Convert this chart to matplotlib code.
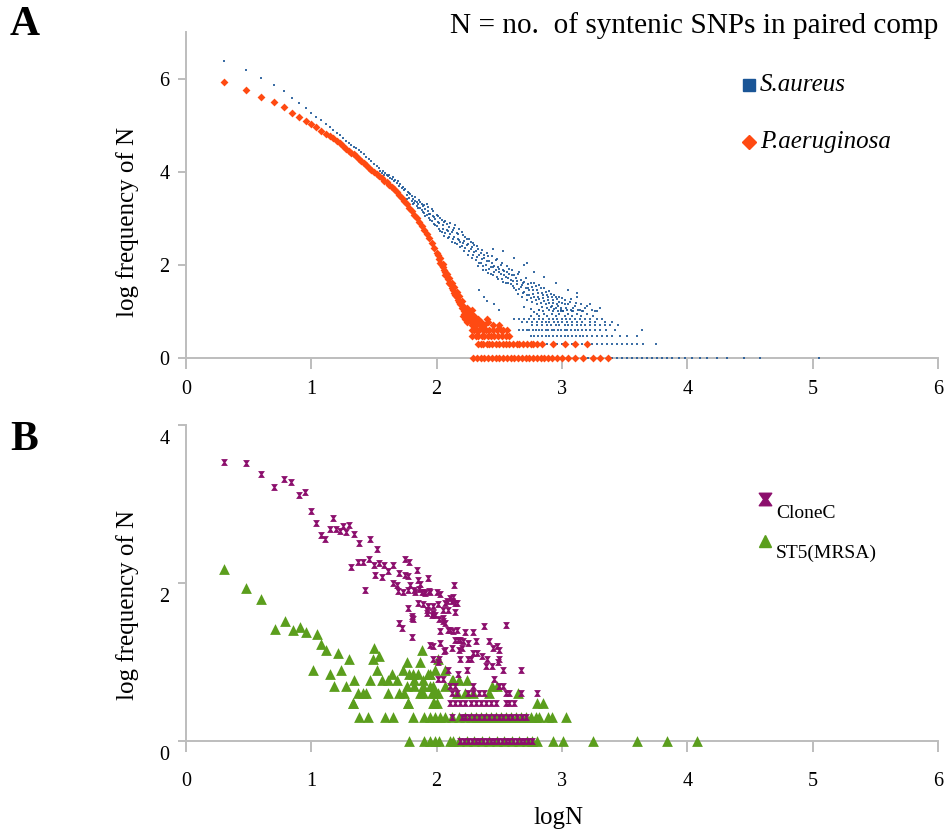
import matplotlib
matplotlib.use("Agg")
import matplotlib.pyplot as plt
import matplotlib.transforms as mtransforms
from matplotlib.lines import Line2D
from matplotlib.path import Path

plt.rcParams['font.family'] = ['Liberation Serif', 'DejaVu Serif']

# ---------------- panel A : S.aureus ----------------
sa_curve_x = [0.301, 0.477, 0.602, 0.699, 0.778, 0.845, 0.903, 0.954, 1.000, 1.041,
              1.079, 1.114, 1.146, 1.176, 1.204, 1.230, 1.255, 1.279, 1.301, 1.32,
              1.34, 1.36, 1.38, 1.40, 1.42, 1.44, 1.46, 1.48, 1.50, 1.52, 1.54]
sa_curve_y = [6.38, 6.18, 6.01, 5.86, 5.73, 5.58, 5.47, 5.37, 5.27, 5.18,
              5.10, 5.03, 4.96, 4.90, 4.84, 4.78, 4.72, 4.67, 4.62, 4.58,
              4.54, 4.50, 4.46, 4.42, 4.37, 4.32, 4.27, 4.22, 4.17, 4.13, 4.08]
sa_cloud = [
    (1.55, 4.02), (1.56, 3.98), (1.57, 4.01), (1.58, 3.94), (1.59, 3.97), (1.60, 3.92),
    (1.61, 3.90), (1.62, 3.93), (1.63, 3.86), (1.64, 3.85), (1.65, 3.89), (1.66, 3.80),
    (1.67, 3.82), (1.68, 3.76), (1.69, 3.79), (1.70, 3.70), (1.71, 3.73), (1.72, 3.65),
    (1.73, 3.68), (1.74, 3.60), (1.75, 3.62), (1.76, 3.50), (1.77, 3.56), (1.78, 3.44),
    (1.79, 3.52), (1.80, 3.38), (1.80, 3.47), (1.81, 3.42), (1.82, 3.33), (1.83, 3.45),
    (1.84, 3.36), (1.84, 3.26), (1.85, 3.30), (1.86, 3.40), (1.87, 3.22), (1.88, 3.31),
    (1.88, 3.18), (1.89, 3.26), (1.90, 3.12), (1.91, 3.21), (1.92, 3.30), (1.92, 3.06),
    (1.93, 3.15), (1.94, 3.00), (1.95, 3.10), (1.96, 3.20), (1.96, 2.94), (1.97, 3.04),
    (1.98, 2.88), (1.99, 2.98), (2.00, 3.08), (2.00, 2.84), (2.01, 2.92), (2.02, 2.78),
    (2.03, 3.00), (2.04, 2.70), (2.05, 2.86), (2.06, 2.62), (2.07, 2.95), (2.08, 2.74),
    (2.09, 2.58), (2.10, 2.82), (2.11, 2.66), (2.12, 2.50), (2.13, 2.75), (2.14, 2.60),
    (2.15, 2.85), (2.16, 2.44), (2.17, 2.66), (2.18, 2.53), (2.19, 2.38), (2.20, 2.70),
    (2.21, 2.48), (2.22, 2.30), (2.23, 2.60), (2.24, 2.42), (2.25, 2.22), (2.26, 2.55),
    (2.27, 2.35), (2.28, 2.15), (2.29, 2.46), (2.30, 2.28), (2.31, 2.10), (2.32, 2.40),
    (2.33, 1.98), (2.34, 2.22), (2.35, 2.05), (2.36, 2.32), (2.37, 1.90), (2.38, 2.15),
    (2.39, 2.00), (2.40, 2.26), (2.41, 1.82), (2.42, 2.08), (2.43, 1.95), (2.44, 2.20),
    (2.45, 1.78), (2.46, 1.98), (2.47, 1.88), (2.48, 2.12), (2.49, 1.70), (2.50, 1.92),
    (2.51, 1.80), (2.52, 2.05), (2.53, 1.64), (2.54, 1.86), (2.55, 1.74), (2.56, 1.98),
    (2.57, 1.60), (2.58, 1.80), (2.59, 1.68), (2.60, 1.90), (2.34, 1.45), (2.38, 1.30),
    (2.40, 1.23), (2.46, 1.15), (2.50, 1.04), (2.61, 1.55), (2.62, 1.78), (2.63, 1.45),
    (2.64, 1.66), (2.65, 1.38), (2.66, 1.85), (2.67, 1.52), (2.68, 1.30), (2.69, 1.62),
    (2.70, 1.42), (2.71, 1.72), (2.72, 1.25), (2.72, 2.05), (2.73, 1.50), (2.74, 1.35),
    (2.75, 1.60), (2.76, 1.20), (2.77, 1.45), (2.78, 1.30), (2.79, 1.55), (2.80, 1.15),
    (2.81, 1.40), (2.82, 1.26), (2.83, 1.50), (2.84, 1.10), (2.85, 1.35), (2.86, 1.22),
    (2.87, 1.42), (2.88, 1.08), (2.89, 1.30), (2.90, 1.18), (2.70, 1.10), (2.75, 1.05),
    (2.78, 0.98), (2.82, 1.02), (2.91, 1.38), (2.92, 1.12), (2.93, 1.25), (2.94, 1.05),
    (2.95, 1.32), (2.96, 1.15), (2.97, 1.00), (2.98, 1.20), (2.99, 1.08), (3.00, 1.28),
    (3.01, 1.00), (3.02, 1.15), (3.04, 1.04), (3.06, 1.20), (3.08, 1.00), (3.10, 1.11),
    (3.12, 1.30), (3.14, 1.04), (3.17, 1.00), (3.20, 1.11), (3.24, 1.04), (3.28, 1.00),
    (1.76, 3.42), (1.78, 3.55), (1.81, 3.30), (1.83, 3.38), (1.85, 3.22), (1.87, 3.35),
    (1.89, 3.14), (1.90, 3.28), (1.91, 3.05), (1.93, 3.24), (1.94, 3.10), (1.95, 2.96),
    (1.97, 3.16), (1.98, 3.02), (1.99, 2.86), (2.01, 3.05), (2.02, 2.90), (2.03, 2.72),
    (2.04, 2.96), (2.05, 2.78), (2.06, 2.92), (2.07, 2.68), (2.08, 2.88), (2.09, 2.72),
    (2.10, 2.60), (2.11, 2.90), (2.12, 2.70), (2.13, 2.55), (2.14, 2.80), (2.15, 2.48),
    (2.16, 2.68), (2.17, 2.56), (2.18, 2.76), (2.19, 2.50), (2.20, 2.40), (2.21, 2.64),
    (2.22, 2.52), (2.23, 2.36), (2.24, 2.56), (2.25, 2.44), (2.26, 2.30), (2.27, 2.50),
    (2.28, 2.38), (2.29, 2.22), (2.30, 2.42), (2.31, 2.30), (2.32, 2.16), (2.33, 2.35),
    (2.34, 2.05), (2.35, 2.26), (2.36, 2.12), (2.37, 1.98), (2.38, 2.22), (2.39, 1.88),
    (2.40, 2.08), (2.41, 2.18), (2.42, 1.92), (2.43, 1.80), (2.44, 2.05), (2.45, 1.95),
    (2.46, 1.85), (2.47, 2.10), (2.48, 1.75), (2.49, 1.96), (2.50, 1.84), (2.51, 2.00),
    (2.52, 1.70), (2.53, 1.90), (2.54, 1.78), (2.55, 1.62), (2.56, 1.84), (2.57, 1.72),
    (2.58, 1.92), (2.59, 1.58), (2.60, 1.78), (2.61, 1.66), (2.62, 1.50), (2.63, 1.72),
    (2.64, 1.58), (2.65, 1.80), (2.66, 1.48), (2.67, 1.68), (2.68, 1.56), (2.69, 1.40),
    (2.70, 1.64), (2.71, 1.50), (2.72, 1.36), (2.73, 1.58), (2.74, 1.46), (2.75, 1.28),
    (2.76, 1.52), (2.77, 1.38), (2.78, 1.62), (2.79, 1.24), (2.80, 1.45), (2.81, 1.32),
    (2.82, 1.56), (2.83, 1.18), (2.84, 1.40), (2.85, 1.28), (2.86, 1.50), (2.87, 1.15),
    (2.88, 1.36), (2.89, 1.24), (2.90, 1.44), (2.91, 1.10), (2.92, 1.30), (2.93, 1.18),
    (2.94, 1.36), (2.95, 1.08), (2.96, 1.26), (2.97, 1.12), (2.98, 1.32), (2.99, 1.00),
    (3.00, 1.18), (3.02, 1.25), (3.03, 1.08), (3.05, 1.15), (3.07, 1.26), (3.09, 1.08),
    (3.11, 1.18), (3.13, 1.04), (3.15, 1.15), (3.18, 1.08), (3.22, 1.15), (3.26, 1.00),
    (3.30, 1.08), (2.45, 2.35), (2.53, 2.30), (2.62, 2.15), (2.70, 2.00), (2.78, 1.85),
    (2.86, 1.75), (2.95, 1.62), (3.05, 1.45), (3.12, 1.40),
]
sa_row_levels = [1.041, 1.000, 0.954, 0.903, 0.845, 0.778, 0.699, 0.602, 0.477, 0.301, 0.0]
sa_row_x = [
    [2.82, 2.90, 2.99, 3.07],
    [2.85, 2.93, 3.01, 3.09, 3.16],
    [2.80, 2.86, 2.92, 2.98, 3.05, 3.12, 3.20],
    [2.75, 2.82, 2.88, 2.95, 3.02, 3.08, 3.15, 3.25],
    [2.62, 2.66, 2.70, 2.74, 2.78, 2.82, 2.85, 2.90, 2.93, 2.96, 3.00, 3.03, 3.06,
     3.10, 3.14, 3.18, 3.22, 3.28, 3.32],
    [2.68, 2.72, 2.76, 2.80, 2.84, 2.87, 2.90, 2.94, 2.97, 3.00, 3.04, 3.08, 3.12,
     3.16, 3.22, 3.26, 3.34, 3.40],
    [2.76, 2.80, 2.84, 2.88, 2.91, 2.95, 2.98, 3.02, 3.05, 3.08, 3.12, 3.15, 3.18,
     3.22, 3.26, 3.30, 3.34, 3.38, 3.45],
    [2.66, 2.69, 2.72, 2.74, 2.77, 2.79, 2.82, 2.84, 2.87, 2.89, 2.92, 2.94, 2.97,
     2.99, 3.02, 3.04, 3.07, 3.10, 3.13, 3.16, 3.19, 3.22, 3.26, 3.30, 3.35, 3.42, 3.64],
    [2.75, 2.78, 2.81, 2.84, 2.87, 2.90, 2.93, 2.96, 2.99, 3.02, 3.05, 3.08, 3.11,
     3.14, 3.17, 3.20, 3.24, 3.28, 3.32, 3.36, 3.40, 3.46, 3.52, 3.60],
    [2.88, 2.92, 2.96, 3.00, 3.04, 3.08, 3.12, 3.16, 3.20, 3.24, 3.28, 3.32, 3.36,
     3.40, 3.44, 3.48, 3.52, 3.56, 3.60, 3.65, 3.75],
    [2.86, 2.91, 2.96, 3.01, 3.06, 3.11, 3.16, 3.21, 3.26, 3.31, 3.36, 3.40, 3.44,
     3.48, 3.52, 3.56, 3.60, 3.64, 3.68, 3.72, 3.76, 3.80, 3.84, 3.88, 3.93, 3.98,
     4.04, 4.10, 4.16, 4.24, 4.32, 4.45, 4.58, 5.05],
]

# ---------------- panel A : P.aeruginosa ----------------
pa_curve_x = [0.301, 0.477, 0.602, 0.699, 0.778, 0.845, 0.903, 0.954, 1.000, 1.041,
              1.079, 1.114, 1.146, 1.176, 1.204, 1.230, 1.255, 1.28, 1.30, 1.32,
              1.34, 1.36, 1.38, 1.40, 1.42, 1.44, 1.46, 1.48, 1.50, 1.52, 1.54,
              1.56, 1.58, 1.60, 1.62, 1.64, 1.66, 1.68, 1.70, 1.72, 1.74, 1.76,
              1.78, 1.80, 1.82, 1.84, 1.86, 1.88, 1.90, 1.92, 1.94, 1.96, 1.98, 2.00]
pa_curve_y = [5.92, 5.76, 5.61, 5.49, 5.39, 5.26, 5.17, 5.09, 5.02, 4.95,
              4.88, 4.82, 4.77, 4.72, 4.67, 4.61, 4.56, 4.49, 4.45, 4.41,
              4.37, 4.33, 4.28, 4.24, 4.19, 4.14, 4.09, 4.04, 3.99, 3.95, 3.90,
              3.86, 3.81, 3.77, 3.72, 3.67, 3.62, 3.56, 3.50, 3.43, 3.37, 3.30,
              3.22, 3.15, 3.07, 3.00, 2.92, 2.84, 2.75, 2.66, 2.57, 2.47, 2.37, 2.26]
pa_cloud = [
    (2.01, 2.22), (2.02, 2.12), (2.03, 2.15), (2.03, 2.05), (2.04, 2.00), (2.05, 1.95),
    (2.05, 2.02), (2.06, 1.88), (2.07, 1.85), (2.07, 1.78), (2.08, 1.80), (2.09, 1.70),
    (2.10, 1.72), (2.10, 1.62), (2.11, 1.58), (2.12, 1.50), (2.12, 1.62), (2.13, 1.45),
    (2.14, 1.40), (2.14, 1.52), (2.15, 1.35), (2.16, 1.30), (2.16, 1.42), (2.17, 1.25),
    (2.18, 1.20), (2.18, 1.33), (2.19, 1.15), (2.20, 1.08), (2.20, 1.22), (2.21, 1.12),
    (2.22, 1.00), (2.23, 1.05), (2.24, 1.08), (2.26, 1.00), (2.28, 1.04),
]
pa_row_levels = [0.954, 0.903, 0.845, 0.778, 0.699, 0.602, 0.477, 0.301, 0.0]
pa_row_x = [
    [2.22, 2.25, 2.27],
    [2.21, 2.24, 2.28, 2.30],
    [2.23, 2.26, 2.29, 2.33, 2.40],
    [2.24, 2.27, 2.31, 2.35, 2.41],
    [2.28, 2.31, 2.35, 2.38, 2.45, 2.50],
    [2.28, 2.30, 2.32, 2.34, 2.37, 2.39, 2.42, 2.45, 2.48, 2.51, 2.53, 2.56],
    [2.28, 2.31, 2.33, 2.36, 2.38, 2.41, 2.43, 2.46, 2.49, 2.52, 2.55, 2.58],
    [2.33, 2.35, 2.37, 2.40, 2.42, 2.44, 2.47, 2.50, 2.53, 2.55, 2.58, 2.61, 2.64,
     2.66, 2.69, 2.72, 2.75, 2.77, 2.80, 2.84, 2.93, 3.02, 3.10, 3.20],
    [2.29, 2.32, 2.35, 2.38, 2.41, 2.44, 2.47, 2.50, 2.53, 2.56, 2.59, 2.62, 2.65,
     2.68, 2.71, 2.74, 2.77, 2.80, 2.83, 2.86, 2.89, 2.92, 2.96, 3.00, 3.05, 3.10,
     3.17, 3.25, 3.30, 3.37],
]

# ---------------- panel B : CloneC ----------------
cc_pts = [
    (0.30, 3.53), (0.48, 3.52), (0.60, 3.38), (0.70, 3.21), (0.78, 3.32), (0.84, 3.28),
    (0.90, 3.12), (0.95, 3.15), (1.00, 2.91), (1.04, 2.76), (1.08, 2.61), (1.11, 2.56),
    (1.15, 2.68), (1.17, 2.82), (1.20, 2.68), (1.23, 2.66), (1.25, 2.72), (1.28, 2.64),
    (1.30, 2.74), (1.34, 2.62), (1.38, 2.51), (1.47, 2.56), (1.52, 2.43), (1.32, 2.20),
    (1.43, 1.91), (1.37, 2.27), (1.41, 2.27), (1.46, 2.30), (1.50, 2.23), (1.54, 2.25),
    (1.58, 2.23), (1.65, 2.23), (1.51, 2.10), (1.56, 2.08), (1.61, 2.15), (1.65, 2.00),
    (1.68, 1.98), (1.70, 2.13), (1.75, 2.10), (1.75, 2.30), (1.78, 2.27), (1.84, 2.16),
    (1.69, 1.90), (1.73, 1.88), (1.77, 1.91), (1.82, 1.91), (1.86, 1.92), (1.90, 1.88),
    (1.94, 1.90), (2.00, 1.88), (2.03, 1.86), (1.85, 1.75), (1.89, 1.73), (1.92, 1.66),
    (1.97, 1.62), (1.99, 1.60), (2.02, 1.54), (1.70, 1.49), (1.72, 1.43), (1.80, 1.58),
    (1.81, 1.54), (2.14, 1.97), (2.07, 1.75), (2.11, 1.81), (2.15, 1.75), (1.80, 1.32),
    (2.05, 1.52), (2.09, 1.41), (2.13, 1.39), (2.17, 1.28), (2.21, 1.26), (2.25, 1.24),
    (1.95, 1.22), (2.03, 1.24), (2.06, 1.14), (2.09, 0.90), (2.18, 1.15), (2.25, 1.04),
    (1.77, 2.09), (1.85, 2.04), (1.87, 1.99), (1.93, 2.06), (1.79, 1.98), (1.83, 1.89),
    (1.88, 1.89), (1.91, 1.87), (1.95, 1.89), (2.13, 1.82), (2.08, 1.77), (2.12, 1.77),
    (2.16, 1.75), (2.15, 1.63), (1.93, 1.71), (1.97, 1.71), (2.01, 1.73), (2.05, 1.66),
    (2.09, 1.66), (1.77, 1.68), (1.80, 1.56), (1.92, 1.62), (1.96, 1.60), (2.05, 1.56),
    (2.07, 1.49), (2.38, 1.46), (2.55, 1.47), (2.03, 1.39), (2.11, 1.40), (2.16, 1.40),
    (2.23, 1.38), (2.29, 1.38), (2.15, 1.28), (2.19, 1.28), (2.31, 1.26), (2.42, 1.26),
    (2.48, 1.20), (2.45, 1.18), (2.50, 1.15), (1.97, 1.20), (2.07, 1.15), (2.12, 1.18),
    (2.20, 1.18), (2.29, 1.11), (2.32, 1.11), (2.36, 1.08), (2.40, 1.04), (2.50, 1.04),
    (2.27, 1.04), (1.97, 1.04), (2.02, 1.04), (2.19, 1.04), (2.39, 0.95), (2.44, 0.95),
    (2.49, 1.00), (2.01, 1.00), (2.24, 0.90), (2.53, 0.90), (2.67, 0.90), (2.17, 0.85),
    (2.01, 0.78), (2.05, 0.78), (2.46, 0.78),
]
cc_row_levels = [0.699, 0.602, 0.477, 0.301, 0.0]
cc_row_x = [
    [2.11, 2.15, 2.29, 2.50, 2.53],
    [2.12, 2.16, 2.25, 2.29, 2.34, 2.38, 2.55, 2.58, 2.67, 2.80],
    [2.11, 2.15, 2.19, 2.23, 2.27, 2.31, 2.35, 2.39, 2.43, 2.47, 2.55, 2.58, 2.62],
    [2.12, 2.20, 2.23, 2.26, 2.30, 2.34, 2.38, 2.42, 2.46, 2.50, 2.53, 2.57, 2.60,
     2.64, 2.68, 2.71],
    [2.19, 2.22, 2.25, 2.28, 2.31, 2.34, 2.37, 2.40, 2.43, 2.46, 2.49, 2.52, 2.55,
     2.58, 2.61, 2.64, 2.67, 2.70, 2.73, 2.76],
]

# ---------------- panel B : ST5(MRSA) ----------------
st_pts = [
    (0.30, 2.18), (0.48, 1.94), (0.60, 1.80), (0.71, 1.42), (0.79, 1.52), (0.85, 1.40),
    (0.91, 1.44), (0.96, 1.38), (1.045, 1.36), (1.08, 1.23), (1.12, 1.146), (1.01, 0.903),
    (1.15, 0.845), (1.18, 0.699), (1.21, 1.114), (1.24, 0.903), (1.28, 0.699), (1.30, 1.041),
    (1.34, 0.778), (1.33, 0.477), (1.47, 0.778), (1.50, 1.176), (1.49, 1.041), (1.54, 1.079),
    (1.52, 0.903), (1.56, 0.778), (1.61, 0.778), (1.64, 0.845), (1.68, 0.778), (1.73, 0.903),
    (1.76, 1.000), (1.78, 0.845), (1.82, 0.778), (1.85, 0.845), (1.77, 0.477), (1.88, 1.146),
    (1.87, 1.000), (1.89, 0.778), (1.93, 0.845), (1.95, 0.699), (1.98, 0.477), (2.01, 1.041),
    (1.99, 0.903), (2.07, 0.903), (2.12, 0.778), (2.18, 0.778), (2.07, 0.699), (1.81, 0.845),
    (1.95, 0.845), (1.76, 0.699), (1.82, 0.699), (1.89, 0.699), (1.97, 0.699), (2.13, 0.778),
    (2.24, 0.778), (2.44, 0.699), (2.48, 0.699),
]
st_row_levels = [0.602, 0.477, 0.301, 0.0]
st_row_x = [
    [1.37, 1.41, 1.44, 1.61, 1.70, 1.74, 1.87, 1.89, 1.96, 1.99, 2.01, 2.16, 2.23,
     2.29, 2.42, 2.65],
    [1.33, 1.77, 1.97, 2.00, 2.80, 2.85],
    [1.38, 1.45, 1.59, 1.65, 1.81, 1.90, 1.95, 1.99, 2.03, 2.07, 2.12, 2.18, 2.23,
     2.27, 2.31, 2.35, 2.39, 2.43, 2.47, 2.51, 2.55, 2.59, 2.63, 2.67, 2.71, 2.75,
     2.79, 2.82, 2.89, 2.92, 3.03],
    [1.78, 1.90, 1.95, 1.99, 2.02, 2.11, 2.13, 2.18, 2.24, 2.30, 2.36, 2.42, 2.48,
     2.54, 2.60, 2.66, 2.72, 2.76, 2.80, 2.93, 3.01, 3.25, 3.60, 3.84, 4.08],
]


def gather(curve_x, curve_y, cloud, levels, rows):
    xs = list(curve_x) + [p[0] for p in cloud]
    ys = list(curve_y) + [p[1] for p in cloud]
    for lev, row in zip(levels, rows):
        xs += row
        ys += [lev] * len(row)
    return xs, ys


blue = '#1a5596'
orange = '#ff4a12'
purple = '#8c0f6d'
green = '#5b9e1d'
grey = '#bdbdbd'

hourglass = Path([(-1, 1), (1, 1), (0.3, 0), (1, -1), (-1, -1), (-0.3, 0), (-1, 1)],
                 [Path.MOVETO] + [Path.LINETO] * 5 + [Path.CLOSEPOLY])

W, H = 946, 834
fig = plt.figure(figsize=(W / 100, H / 100), dpi=100)
axA = fig.add_axes([186 / W, 1 - 358 / H, 752 / W, 326 / H])
axB = fig.add_axes([186 / W, 1 - 741 / H, 752 / W, 316 / H])

sx, sy = gather(sa_curve_x, sa_curve_y, sa_cloud, sa_row_levels, sa_row_x)
px, py = gather(pa_curve_x, pa_curve_y, pa_cloud, pa_row_levels, pa_row_x)
axA.scatter(sx, sy, s=4, marker='s', color=blue, alpha=0.85, linewidths=0,
            clip_on=False, zorder=3)
axA.scatter(px, py, s=16, marker='D', color=orange, linewidths=0, clip_on=False, zorder=4)

cx, cy = gather([], [], cc_pts, cc_row_levels, cc_row_x)
tx, ty = gather([], [], st_pts, st_row_levels, st_row_x)
axB.scatter(tx, ty, s=60, marker='^', color=green, linewidths=0, clip_on=False, zorder=3)
axB.scatter(cx, cy, s=24, marker=hourglass, color=purple, linewidths=0, clip_on=False, zorder=4)

for ax, ymax, yt in [(axA, 7, [0, 2, 4, 6]), (axB, 4, [0, 2, 4])]:
    ax.set_xlim(0, 6)
    ax.set_ylim(0, ymax)
    ax.set_xticks(range(7))
    ax.set_yticks(yt)
    for side in ['top', 'right']:
        ax.spines[side].set_visible(False)
    for side in ['left', 'bottom']:
        ax.spines[side].set_color(grey)
        ax.spines[side].set_linewidth(1.4)
    ax.tick_params(axis='both', colors=grey, labelcolor='black', labelsize=14.5, width=1.4)
    ax.tick_params(axis='y', length=6, pad=6)
    ax.patch.set_visible(False)

axA.tick_params(axis='x', length=8, pad=8)
axB.tick_params(axis='x', length=8, pad=14)

off = mtransforms.ScaledTranslation(0, -12 / 100, fig.dpi_scale_trans)
for lab in axB.get_yticklabels():
    lab.set_transform(lab.get_transform() + off)

# labels and titles
fig.text(10 / W, 1 - 25 / H, 'A', fontsize=30, fontweight='bold', va='center', ha='left')
fig.text(10 / W, 1 - 440 / H, 'B', fontsize=30, fontweight='bold', va='center', ha='left')
fig.text(450 / W, 1 - 26 / H, 'N = no.  of syntenic SNPs in paired comp', fontsize=21.1,
         va='center', ha='left')
fig.text(128 / W, 1 - 222 / H, 'log frequency of N', fontsize=18, rotation=90,
         va='center', ha='center')
fig.text(128 / W, 1 - 605 / H, 'log frequency of N', fontsize=18, rotation=90,
         va='center', ha='center')
fig.text(558 / W, 1 - 818 / H, 'logN', fontsize=18, va='center', ha='center')

# legend A
fig.add_artist(Line2D([749 / W], [1 - 85 / H], marker='s', markersize=8, color=blue,
                      linestyle='none', transform=fig.transFigure))
fig.text(760 / W, 1 - 85 / H, 'S.aureus', fontsize=18, style='italic', va='center')
fig.add_artist(Line2D([749 / W], [1 - 142 / H], marker='D', markersize=7, color=orange,
                      linestyle='none', transform=fig.transFigure))
fig.text(760 / W, 1 - 142 / H, 'P.aeruginosa', fontsize=18, style='italic', va='center')

# legend B
fig.add_artist(Line2D([765 / W], [1 - 499 / H], marker=hourglass, markersize=9, color=purple,
                      linestyle='none', transform=fig.transFigure))
fig.text(776 / W, 1 - 514 / H, 'CloneC', fontsize=14, va='center')
fig.add_artist(Line2D([765 / W], [1 - 541 / H], marker='^', markersize=9, color=green,
                      linestyle='none', transform=fig.transFigure))
fig.text(776 / W, 1 - 553 / H, 'ST5(MRSA)', fontsize=14, va='center')

fig.savefig('out.png', dpi=100)
